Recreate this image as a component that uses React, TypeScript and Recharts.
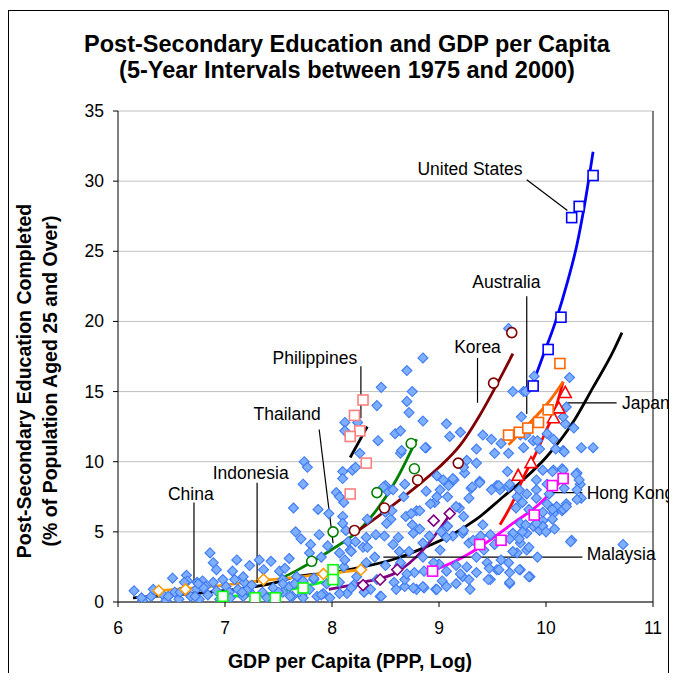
import React from "react";
import {
  ComposedChart,
  Scatter,
  Line,
  XAxis,
  YAxis,
  CartesianGrid,
  ReferenceLine,
  ReferenceDot,
} from "recharts";

type Pt = [number, number];

const xTicks = [6, 7, 8, 9, 10, 11];
const yTicks = [0, 5, 10, 15, 20, 25, 30, 35];

// all countries, 5-year observations (log GDP, % post-secondary)
const cloud: Pt[] = [
  [6.15, 0.8], [6.51, 1.7], [6.64, 1.9], [6.65, 1.5], [6.86, 3.5], [6.89, 2.8], [6.92, 2.3], [6.79, 1.5],
  [6.98, 1.6], [7.07, 2.2], [7.11, 3.0], [7.23, 2.6], [7.32, 3.0], [7.43, 2.9], [7.51, 2.2], [7.6, 3.1],
  [7.64, 6.7], [7.66, 5.0],
  [6.23, 0.1], [6.31, 0.4], [6.42, 0.5], [6.45, 0.1], [6.53, 0.7], [6.57, 0.2], [6.68, 0.4], [6.73, 0.9],
  [6.76, 0.2], [6.82, 1.1], [6.84, 0.5], [6.92, 0.8], [6.95, 0.2], [7.01, 1.1], [7.04, 0.7], [7.12, 0.9],
  [7.17, 0.4], [7.21, 0.9], [7.26, 0.5], [7.35, 0.7], [7.4, 0.3], [7.45, 1.0], [7.54, 0.7], [7.6, 1.1],
  [7.63, 0.4], [6.74, 1.4], [6.62, 1.4], [6.89, 1.4], [7.09, 1.6], [7.18, 1.4],
  [6.22, 0.3], [6.33, 0.9], [6.47, 0.4], [6.58, 0.7], [6.72, 0.4], [6.8, 1.0], [7.05, 0.3], [7.16, 0.7],
  [7.25, 1.2], [7.39, 0.3], [7.5, 0.7], [7.61, 0.4], [7.72, 0.5], [7.79, 0.9], [7.92, 0.6], [7.98, 0.3],
  [8.14, 0.6], [8.2, 1.2], [7.95, 1.3], [7.83, 1.6], [7.67, 1.8], [7.56, 2.4], [7.54, 1.6],
  [7.36, 2.3], [7.17, 1.8], [6.75, 1.3], [7.65, 1.3], [7.54, 1.3],
  [8.12, 12.8], [8.24, 12.8], [8.42, 14.0], [8.46, 15.3],
  [7.97, 6.3], [8.11, 7.1], [8.26, 10.6], [8.1, 9.3], [8.13, 5.1], [8.19, 9.4],
  [8.17, 3.7], [8.29, 3.9], [8.07, 3.5], [8.11, 2.5], [8.32, 2.8], [8.23, 1.8], [8.42, 1.6], [8.07, 0.6],
  [7.86, 0.4], [8.36, 0.9], [8.45, 0.4],
  [8.12, 12.2], [8.43, 11.5], [8.59, 12.0], [8.64, 12.2], [8.64, 10.6], [8.88, 11.0], [9.1, 11.8], [7.74, 10.0],
  [7.77, 9.6], [8.1, 8.8], [8.22, 9.6], [7.73, 8.4], [8.04, 7.8], [8.07, 7.5], [7.87, 6.6], [8.5, 8.3],
  [8.52, 7.9], [8.68, 8.4], [8.88, 7.9], [9.01, 8.0], [9.14, 8.7], [9.24, 9.2], [9.3, 8.1], [9.08, 7.5],
  [8.96, 7.1], [9.19, 6.7], [9.28, 7.4], [8.1, 6.1], [8.1, 5.6], [8.33, 5.9], [8.5, 6.4], [8.55, 5.9],
  [8.69, 6.1], [8.79, 6.5], [8.75, 5.5], [8.82, 5.2], [8.91, 4.7], [9.02, 5.0], [9.08, 5.4], [9.13, 4.7],
  [9.22, 4.9], [9.28, 4.2], [7.71, 4.5], [7.8, 4.1], [7.88, 4.8], [7.96, 4.0], [8.15, 4.3], [8.22, 4.3],
  [8.32, 4.6], [8.41, 4.8], [8.49, 4.7], [7.79, 3.5], [7.9, 3.2], [8.12, 3.0], [8.18, 3.6], [8.33, 3.9],
  [8.4, 3.2], [8.57, 4.1], [8.63, 3.6], [8.72, 3.6], [8.5, 2.6], [8.63, 2.6], [8.77, 2.1], [8.86, 2.2],
  [9.0, 2.7], [9.07, 2.2], [9.16, 2.6], [9.22, 1.8], [9.28, 1.6], [7.73, 1.5], [7.83, 1.7], [7.9, 0.5],
  [8.07, 1.4], [8.18, 1.0], [8.3, 0.7], [8.46, 0.4], [8.58, 1.4], [8.68, 1.1], [8.79, 0.9], [8.86, 1.0],
  [8.97, 0.9], [9.03, 1.5], [7.73, 0.3],
  [8.85, 17.4], [8.7, 16.5], [8.75, 15.0], [8.7, 14.3], [8.72, 13.5], [8.85, 12.9], [9.07, 12.7],
  [9.2, 12.1], [8.65, 10.8], [8.87, 11.0], [9.35, 10.9], [9.41, 11.9], [9.52, 10.6], [9.65, 10.6],
  [9.69, 15.0], [9.79, 15.0], [9.89, 16.1], [10.22, 16.0], [10.18, 12.7], [10.26, 12.4], [10.33, 11.0],
  [10.44, 11.0], [10.16, 10.8], [10.07, 11.6], [9.94, 10.9], [10.01, 12.0], [9.76, 11.9], [9.79, 11.0],
  [9.88, 11.5], [9.26, 10.1], [9.35, 9.9], [9.23, 9.6], [9.31, 8.2], [9.38, 8.6], [9.13, 8.8], [9.04, 8.7],
  [8.98, 9.0], [9.09, 8.3], [9.54, 8.3], [9.57, 8.0], [9.65, 8.2], [9.73, 7.5], [9.82, 7.7], [9.91, 8.0],
  [10.01, 8.4], [10.07, 9.4], [10.15, 9.5], [10.29, 9.2], [10.32, 8.4], [10.29, 8.0], [10.33, 7.4],
  [10.29, 7.3], [10.19, 7.0], [10.1, 6.8], [10.01, 7.0], [10.07, 6.3], [10.15, 6.5], [9.97, 5.8],
  [9.88, 5.4], [9.94, 5.1], [9.82, 4.9], [9.76, 5.6], [9.69, 4.9], [9.76, 4.2], [9.82, 3.7], [9.73, 3.5],
  [9.65, 2.8], [9.76, 2.3], [9.85, 1.8], [9.66, 1.3], [9.48, 1.6], [9.54, 2.3], [9.45, 2.8], [9.35, 3.2],
  [9.26, 2.5], [9.2, 2.0], [9.16, 1.3], [9.07, 1.1], [8.98, 0.9], [8.85, 1.1], [8.76, 1.0], [8.68, 1.6],
  [8.6, 0.9], [9.29, 0.9], [9.46, 1.6], [10.24, 4.4], [10.72, 4.1], [9.41, 5.5], [9.48, 4.8], [9.32, 4.4],
  [9.23, 5.1], [9.23, 6.1], [9.16, 6.8], [8.92, 7.0], [8.98, 7.5], [8.82, 6.5], [8.74, 6.3], [8.67, 7.5],
  [8.57, 8.0], [8.48, 8.2], [8.56, 6.5], [8.51, 5.6], [8.62, 4.6], [8.76, 4.9], [8.85, 4.2], [9.01, 3.7],
  [9.07, 4.6], [8.85, 3.2], [8.95, 2.8], [8.64, 2.8], [8.7, 2.0],
  [9.49, 11.6], [9.58, 11.3], [9.81, 11.9], [9.92, 11.5], [10.09, 10.9], [10.17, 10.7], [9.38, 8.5],
  [9.49, 8.0], [9.56, 8.3], [9.64, 9.3], [9.66, 8.4], [9.75, 8.0], [9.91, 8.7], [9.97, 9.4], [10.06, 9.3],
  [10.16, 9.4], [10.28, 9.1], [10.31, 8.7], [10.17, 8.1], [10.03, 7.7], [9.91, 7.4], [9.78, 7.1],
  [9.72, 6.7], [9.84, 6.6], [9.97, 6.4], [10.06, 6.6], [10.16, 6.6], [10.19, 6.8], [10.06, 5.9],
  [9.97, 5.4], [9.91, 5.6], [9.81, 5.5], [9.78, 5.0], [10.0, 5.0], [10.08, 5.2], [10.23, 4.3], [9.39, 4.7],
  [9.42, 3.7], [9.52, 4.1], [9.66, 4.5], [9.75, 4.5], [9.84, 3.9], [9.69, 3.6], [9.58, 3.0], [9.92, 3.2],
  [9.47, 2.4], [9.56, 2.3], [9.75, 2.3], [9.66, 2.1], [9.84, 1.8], [9.66, 1.4], [9.35, 2.1],
  [9.65, 19.5], [9.77, 13.2], [10.16, 13.2], [10.19, 13.9], [9.81, 15.0],
];

// country observations
const usPts: Pt[] = [[9.88, 15.4], [10.02, 18.0], [10.14, 20.3], [10.24, 27.4], [10.31, 28.2], [10.44, 30.4]];
const australiaPts: Pt[] = [[9.65, 11.9], [9.75, 12.1], [9.83, 12.4], [9.93, 12.8], [10.02, 13.7], [10.13, 17.0]];
const japanPts: Pt[] = [[9.74, 9.0], [9.86, 9.9], [10.07, 13.1], [10.12, 13.8], [10.18, 14.9]];
const hongKongPts: Pt[] = [[8.94, 2.2], [9.38, 4.1], [9.58, 4.4], [9.89, 6.2], [10.06, 8.3], [10.16, 8.8]];
const koreaPts: Pt[] = [[8.21, 5.1], [8.49, 6.7], [8.8, 8.7], [9.18, 9.9], [9.51, 15.6], [9.68, 19.2]];
const malaysiaPts: Pt[] = [[8.29, 1.2], [8.45, 1.6], [8.61, 2.3], [8.95, 5.8], [9.1, 6.3]];
const thailandPts: Pt[] = [[7.81, 2.9], [8.01, 5.0], [8.42, 7.8], [8.77, 9.5], [8.74, 11.3]];
const philippinesPts: Pt[] = [[8.29, 14.4], [8.21, 13.3], [8.26, 12.2], [8.17, 11.8], [8.32, 9.9], [8.17, 7.7]];
const indonesiaPts: Pt[] = [[6.98, 0.4], [7.28, 0.3], [7.47, 0.3], [7.73, 1.0], [8.01, 2.3], [8.01, 1.6]];
const chinaPts: Pt[] = [[6.38, 0.8], [6.63, 0.9], [7.36, 1.6], [7.92, 2.0], [8.27, 2.3]];

// fitted curves
const usFit: Pt[] = [[9.85, 15.0], [9.97, 17.5], [10.09, 20.0], [10.2, 22.8], [10.29, 25.5], [10.36, 28.3], [10.44, 32.1]];
const australiaFit: Pt[] = [[9.65, 11.2], [9.8, 12.4], [9.95, 13.6], [10.05, 14.5], [10.16, 15.7]];
const japanFit: Pt[] = [[9.57, 5.5], [9.7, 7.3], [9.79, 8.9], [9.9, 10.5], [10.0, 12.2], [10.08, 13.6], [10.16, 15.7]];
const hongKongFit: Pt[] = [[8.93, 2.2], [9.15, 2.9], [9.38, 3.9], [9.69, 5.6], [9.94, 7.0], [10.17, 8.9]];
const koreaFit: Pt[] = [[8.21, 4.9], [8.5, 6.5], [8.8, 8.3], [9.0, 9.6], [9.2, 11.2], [9.38, 13.3], [9.54, 15.5], [9.69, 17.7]];
const malaysiaFit: Pt[] = [[7.97, 0.9], [8.29, 1.4], [8.6, 2.1], [8.85, 3.7], [9.1, 6.2]];
const thailandFit: Pt[] = [[7.53, 1.7], [7.66, 2.2], [7.97, 3.6], [8.29, 5.4], [8.6, 8.7], [8.79, 11.6]];
const philippinesFit: Pt[] = [[8.17, 10.3], [8.33, 12.5]];
const indonesiaFit: Pt[] = [[6.98, 0.4], [7.28, 0.5], [7.5, 0.7], [7.73, 1.1], [8.01, 1.6]];
const chinaFit: Pt[] = [[6.36, 0.8], [6.63, 0.95], [7.0, 1.2], [7.37, 1.55], [7.66, 1.75], [7.92, 2.0], [8.28, 2.3]];
const allFit: Pt[] = [
  [6.14, 0.3], [6.5, 0.5], [6.86, 0.7], [7.2, 1.0], [7.48, 1.4], [7.66, 1.8], [8.0, 2.1], [8.29, 2.5],
  [8.6, 3.1], [8.9, 4.0], [9.1, 4.7], [9.35, 5.9], [9.6, 7.5], [9.8, 8.8], [10.0, 10.3], [10.26, 12.9],
  [10.44, 15.3], [10.63, 17.9], [10.71, 19.2],
];

// country labels and their leader lines
const noteText = ["United States", "Australia", "Korea", "Japan", "Hong Kong", "Malaysia", "Philippines", "Thailand", "Indonesia", "China"];
const noteAt: Pt[] = [[9.29, 30.9], [9.63, 22.8], [9.36, 18.2], [10.71, 14.2], [10.38, 7.8], [10.38, 3.4], [7.84, 17.4], [7.58, 13.4], [7.24, 9.2], [6.68, 7.7]];
const noteAnchor = ["middle", "middle", "middle", "start", "start", "start", "middle", "middle", "middle", "middle"];
const leaderFrom: Pt[] = [[9.82, 30.1], [9.82, 21.8], [9.36, 17.4], [10.2, 14.2], [10.01, 7.8], [8.48, 3.2], [8.27, 16.8], [7.88, 12.3], [7.3, 8.5], [6.71, 7.1]];
const leaderTo: Pt[] = [[10.2, 27.9], [9.82, 13.4], [9.36, 14.2], [10.66, 14.2], [10.34, 7.8], [10.34, 3.2], [8.27, 13.1], [8.01, 4.2], [7.3, 1.35], [6.71, 1.35]];

const FONT = "'Liberation Sans', Arial, sans-serif";
const toRows = (pts: Pt[]) => pts.map(([x, y]) => ({ x, y }));

const CloudDot = (p: any) => {
  const { cx, cy } = p;
  if (cx == null || cy == null) return <g />;
  const h = 5;
  return (
    <path
      d={`M${cx},${cy - h}L${cx + h},${cy}L${cx},${cy + h}L${cx - h},${cy}Z`}
      fill="#7EAEFF"
      stroke="#3F7BF5"
      strokeWidth={1.1}
    />
  );
};

const marker = (kind: string, color: string) => (p: any) => {
  const { cx, cy } = p;
  if (cx == null || cy == null) return <g />;
  const common = { fill: "#fff", stroke: color, strokeWidth: 1.6 };
  if (kind === "square") return <rect x={cx - 5} y={cy - 5} width={10} height={10} {...common} />;
  if (kind === "circle") return <circle cx={cx} cy={cy} r={5} {...common} />;
  if (kind === "triangle")
    return <path d={`M${cx},${cy - 6.5}L${cx + 6},${cy + 4.5}L${cx - 6},${cy + 4.5}Z`} {...common} />;
  return <path d={`M${cx},${cy - 5.5}L${cx + 5.5},${cy}L${cx},${cy + 5.5}L${cx - 5.5},${cy}Z`} {...common} />;
};

const series = [
  { pts: chinaPts, fit: chinaFit, kind: "diamond", mark: "#FF9900", line: "#FF9900" },
  { pts: indonesiaPts, fit: indonesiaFit, kind: "square", mark: "#00FF00", line: "#00FF00" },
  { pts: philippinesPts, fit: philippinesFit, kind: "square", mark: "#FF8080", line: "#000000" },
  { pts: thailandPts, fit: thailandFit, kind: "circle", mark: "#008000", line: "#008000" },
  { pts: malaysiaPts, fit: malaysiaFit, kind: "diamond", mark: "#800080", line: "#800080" },
  { pts: koreaPts, fit: koreaFit, kind: "circle", mark: "#800000", line: "#800000" },
  { pts: hongKongPts, fit: hongKongFit, kind: "square", mark: "#FF00FF", line: "#FF00FF" },
  { pts: japanPts, fit: japanFit, kind: "triangle", mark: "#FF0000", line: "#FF0000" },
  { pts: australiaPts, fit: australiaFit, kind: "square", mark: "#FF6600", line: "#FF6600" },
  { pts: usPts, fit: usFit, kind: "square", mark: "#0000FF", line: "#0000FF" },
];

const XTick = (p: any) => (
  <text x={p.x} y={p.y} dy={25} textAnchor="middle" fontSize={17.5} fontFamily={FONT} fill="#000">
    {p.payload.value}
  </text>
);

const YTick = (p: any) => (
  <text x={p.x} y={p.y} dx={-7} dy={6} textAnchor="end" fontSize={17.5} fontFamily={FONT} fill="#000">
    {p.payload.value}
  </text>
);

const App = () => {
  return (
    <div style={{ position: "relative", width: 677, height: 681, margin: -8, overflow: "hidden", background: "#fff" }}>
      <div
        style={{ position: "absolute", left: 8, top: 10, width: 661, height: 700, border: "1px solid #000", boxSizing: "border-box" }}
      />
      <div style={{ position: "absolute", left: 0, top: 0 }}>
        <ComposedChart width={677} height={681} margin={{ top: 111, right: 24, bottom: 49, left: 78 }}>
          <CartesianGrid vertical={false} stroke="#C0C0C0" strokeWidth={1} />
          <XAxis
            type="number"
            dataKey="x"
            domain={[6, 11]}
            ticks={xTicks}
            allowDataOverflow
            height={30}
            tickSize={5}
            stroke="#000"
            tick={<XTick />}
          />
          <YAxis
            type="number"
            dataKey="y"
            domain={[0, 35]}
            ticks={yTicks}
            allowDataOverflow
            width={40}
            tickSize={5}
            stroke="#000"
            tick={<YTick />}
          />
          <ReferenceLine x={11} stroke="#000" strokeWidth={1} ifOverflow="visible" />
          <Scatter data={toRows(cloud)} shape={CloudDot} isAnimationActive={false} />
          <Line
            data={toRows(allFit)}
            dataKey="y"
            type="monotone"
            stroke="#000"
            strokeWidth={2.8}
            dot={false}
            activeDot={false}
            isAnimationActive={false}
          />
          {series.map((s, i) => (
            <Line
              key={`fit-${i}`}
              data={toRows(s.fit)}
              dataKey="y"
              type="monotone"
              stroke={s.line}
              strokeWidth={2.8}
              dot={false}
              activeDot={false}
              isAnimationActive={false}
            />
          ))}
          {series.map((s, i) => (
            <Scatter key={`pts-${i}`} data={toRows(s.pts)} shape={marker(s.kind, s.mark)} isAnimationActive={false} />
          ))}
          {noteText.map((t, i) => (
            <ReferenceLine
              key={`lead-${i}`}
              segment={[
                { x: leaderFrom[i][0], y: leaderFrom[i][1] },
                { x: leaderTo[i][0], y: leaderTo[i][1] },
              ]}
              stroke="#000"
              strokeWidth={1.2}
              ifOverflow="visible"
            />
          ))}
          {noteText.map((t, i) => (
            <ReferenceDot
              key={`note-${i}`}
              x={noteAt[i][0]}
              y={noteAt[i][1]}
              r={0}
              ifOverflow="visible"
              shape={(p: any) => (
                <text
                  x={p.cx}
                  y={p.cy}
                  dy={6}
                  textAnchor={noteAnchor[i] as any}
                  fontSize={17.5}
                  fontFamily={FONT}
                  fill="#000"
                >
                  {t}
                </text>
              )}
            />
          ))}
        </ComposedChart>
      </div>
      <svg width={677} height={681} style={{ position: "absolute", left: 0, top: 0, pointerEvents: "none" }}>
        <g fontFamily={FONT} fontWeight="bold" fill="#000">
          <text x={347} y={52} textAnchor="middle" fontSize={23.5}>
            Post-Secondary Education and GDP per Capita
          </text>
          <text x={347} y={78} textAnchor="middle" fontSize={23.5}>
            (5-Year Intervals between 1975 and 2000)
          </text>
          <text x={350} y={668} textAnchor="middle" fontSize={19.5}>
            GDP per Capita (PPP, Log)
          </text>
          <text transform="translate(31,381) rotate(-90)" textAnchor="middle" fontSize={19.5}>
            Post-Secondary Education Completed
          </text>
          <text transform="translate(57,381) rotate(-90)" textAnchor="middle" fontSize={19.5}>
            (% of  Population Aged 25 and Over)
          </text>
        </g>
      </svg>
    </div>
  );
};

export default App;
